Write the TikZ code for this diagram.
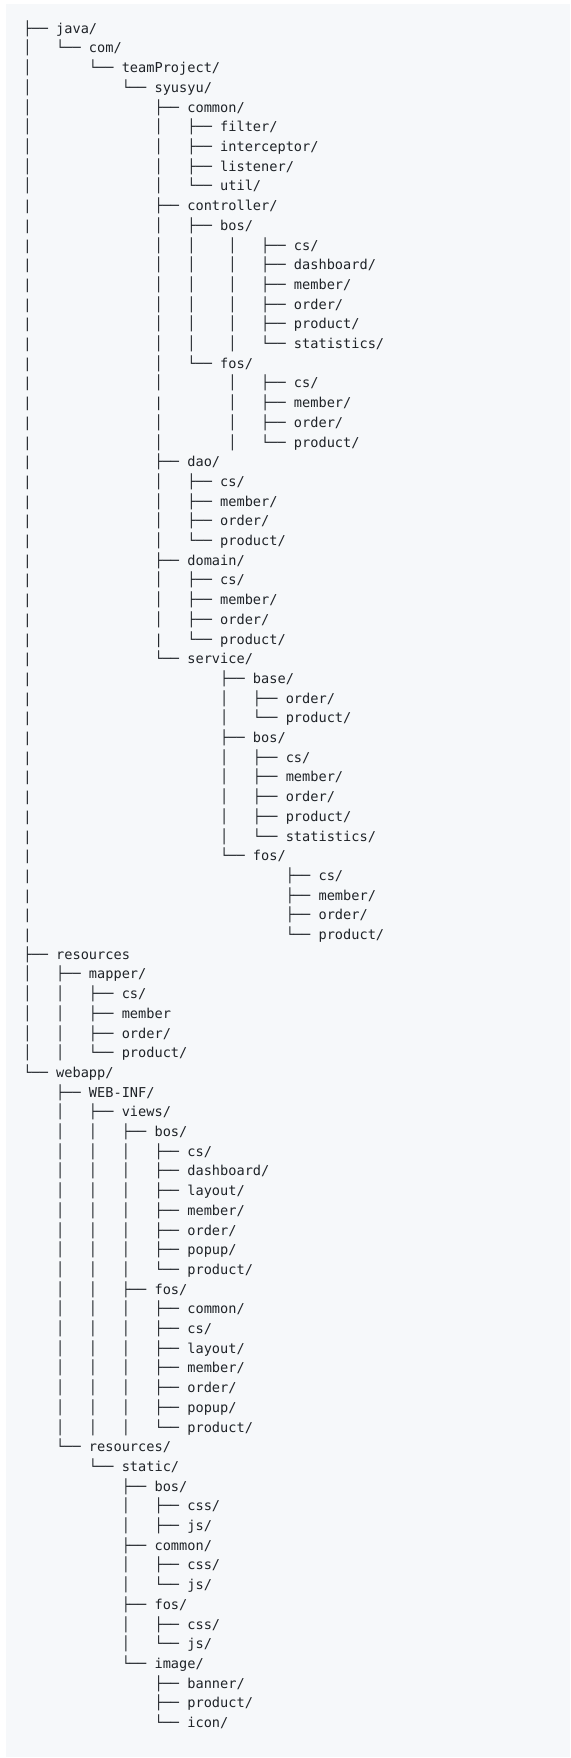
\documentclass[tikz,border=0pt]{standalone}
\usepackage{fontspec}
\setmainfont{DejaVu Sans Mono}
\usepackage{xcolor}
\definecolor{codebg}{HTML}{F6F8FA}
\definecolor{codefg}{HTML}{1F2328}
% tree pieces, 4 columns each
\newcommand{\tbar}{│~~~}
\newcommand{\tasc}{|~~~}
\newcommand{\tgap}{~~~~}
\newcommand{\ttee}{├──~}
\newcommand{\tlast}{└──~}
\newcommand{\tline}[2] % line number, text
{
	\node[treeline] (line#1) at (23.2, {-33.3-(#1-1)*19.7}) {#2};
}

\begin{document}
\begin{tikzpicture}[x=1pt, y=1pt,
	treeline/.style={anchor=base west, inner sep=0pt, text=codefg, font=\fontsize{13.62}{19.7}\selectfont}]
	% page 570 x 1758, code block background
	\useasboundingbox (0, 0) rectangle (570, -1758);
	\fill[codebg] (6.3, -4) rectangle (570, -1757);
	
	% java
	\tline{1}{\ttee java/}
	\tline{2}{\tbar\tlast com/}
	\tline{3}{\tbar\tgap\tlast teamProject/}
	\tline{4}{\tbar\tgap\tgap\tlast syusyu/}
	\tline{5}{\tbar\tgap\tgap\tgap\ttee common/}
	\tline{6}{\tbar\tgap\tgap\tgap\tbar\ttee filter/}
	\tline{7}{\tbar\tgap\tgap\tgap\tbar\ttee interceptor/}
	\tline{8}{\tbar\tgap\tgap\tgap\tbar\ttee listener/}
	\tline{9}{\tbar\tgap\tgap\tgap\tbar\tlast util/}
	\tline{10}{\tasc\tgap\tgap\tgap\ttee controller/}
	\tline{11}{\tasc\tgap\tgap\tgap\tbar\ttee bos/}
	\tline{12}{\tasc\tgap\tgap\tgap\tbar\tbar~\tbar\ttee cs/}
	\tline{13}{\tasc\tgap\tgap\tgap\tbar\tbar~\tbar\ttee dashboard/}
	\tline{14}{\tasc\tgap\tgap\tgap\tbar\tbar~\tbar\ttee member/}
	\tline{15}{\tasc\tgap\tgap\tgap\tbar\tbar~\tbar\ttee order/}
	\tline{16}{\tasc\tgap\tgap\tgap\tbar\tbar~\tbar\ttee product/}
	\tline{17}{\tasc\tgap\tgap\tgap\tbar\tbar~\tbar\tlast statistics/}
	\tline{18}{\tasc\tgap\tgap\tgap\tbar\tlast fos/}
	\tline{19}{\tasc\tgap\tgap\tgap\tbar\tgap~\tbar\ttee cs/}
	\tline{20}{\tasc\tgap\tgap\tgap\tasc\tgap~\tbar\ttee member/}
	\tline{21}{\tasc\tgap\tgap\tgap\tbar\tgap~\tbar\ttee order/}
	\tline{22}{\tasc\tgap\tgap\tgap\tbar\tgap~\tbar\tlast product/}
	\tline{23}{\tasc\tgap\tgap\tgap\ttee dao/}
	\tline{24}{\tasc\tgap\tgap\tgap\tbar\ttee cs/}
	\tline{25}{\tasc\tgap\tgap\tgap\tbar\ttee member/}
	\tline{26}{\tasc\tgap\tgap\tgap\tbar\ttee order/}
	\tline{27}{\tasc\tgap\tgap\tgap\tbar\tlast product/}
	\tline{28}{\tasc\tgap\tgap\tgap\ttee domain/}
	\tline{29}{\tasc\tgap\tgap\tgap\tbar\ttee cs/}
	\tline{30}{\tasc\tgap\tgap\tgap\tbar\ttee member/}
	\tline{31}{\tasc\tgap\tgap\tgap\tbar\ttee order/}
	\tline{32}{\tasc\tgap\tgap\tgap\tasc\tlast product/}
	\tline{33}{\tasc\tgap\tgap\tgap\tlast service/}
	\tline{34}{\tasc\tgap\tgap\tgap\tgap\tgap\ttee base/}
	\tline{35}{\tasc\tgap\tgap\tgap\tgap\tgap\tbar\ttee order/}
	\tline{36}{\tasc\tgap\tgap\tgap\tgap\tgap\tbar\tlast product/}
	\tline{37}{\tasc\tgap\tgap\tgap\tgap\tgap\ttee bos/}
	\tline{38}{\tasc\tgap\tgap\tgap\tgap\tgap\tbar\ttee cs/}
	\tline{39}{\tasc\tgap\tgap\tgap\tgap\tgap\tbar\ttee member/}
	\tline{40}{\tasc\tgap\tgap\tgap\tgap\tgap\tbar\ttee order/}
	\tline{41}{\tasc\tgap\tgap\tgap\tgap\tgap\tbar\ttee product/}
	\tline{42}{\tasc\tgap\tgap\tgap\tgap\tgap\tbar\tlast statistics/}
	\tline{43}{\tasc\tgap\tgap\tgap\tgap\tgap\tlast fos/}
	\tline{44}{\tasc\tgap\tgap\tgap\tgap\tgap\tgap\tgap\ttee cs/}
	\tline{45}{\tasc\tgap\tgap\tgap\tgap\tgap\tgap\tgap\ttee member/}
	\tline{46}{\tasc\tgap\tgap\tgap\tgap\tgap\tgap\tgap\ttee order/}
	\tline{47}{\tasc\tgap\tgap\tgap\tgap\tgap\tgap\tgap\tlast product/}
	
	% resources
	\tline{48}{\ttee resources}
	\tline{49}{\tbar\ttee mapper/}
	\tline{50}{\tbar\tbar\ttee cs/}
	\tline{51}{\tbar\tbar\ttee member}
	\tline{52}{\tbar\tbar\ttee order/}
	\tline{53}{\tbar\tbar\tlast product/}
	
	% webapp
	\tline{54}{\tlast webapp/}
	\tline{55}{\tgap\ttee WEB-INF/}
	\tline{56}{\tgap\tbar\ttee views/}
	\tline{57}{\tgap\tbar\tbar\ttee bos/}
	\tline{58}{\tgap\tbar\tbar\tbar\ttee cs/}
	\tline{59}{\tgap\tbar\tbar\tbar\ttee dashboard/}
	\tline{60}{\tgap\tbar\tbar\tbar\ttee layout/}
	\tline{61}{\tgap\tbar\tbar\tbar\ttee member/}
	\tline{62}{\tgap\tbar\tbar\tbar\ttee order/}
	\tline{63}{\tgap\tbar\tbar\tbar\ttee popup/}
	\tline{64}{\tgap\tbar\tbar\tbar\tlast product/}
	\tline{65}{\tgap\tbar\tbar\ttee fos/}
	\tline{66}{\tgap\tbar\tbar\tbar\ttee common/}
	\tline{67}{\tgap\tbar\tbar\tbar\ttee cs/}
	\tline{68}{\tgap\tbar\tbar\tbar\ttee layout/}
	\tline{69}{\tgap\tbar\tbar\tbar\ttee member/}
	\tline{70}{\tgap\tbar\tbar\tbar\ttee order/}
	\tline{71}{\tgap\tbar\tbar\tbar\ttee popup/}
	\tline{72}{\tgap\tbar\tbar\tbar\tlast product/}
	\tline{73}{\tgap\tlast resources/}
	\tline{74}{\tgap\tgap\tlast static/}
	\tline{75}{\tgap\tgap\tgap\ttee bos/}
	\tline{76}{\tgap\tgap\tgap\tbar\ttee css/}
	\tline{77}{\tgap\tgap\tgap\tbar\ttee js/}
	\tline{78}{\tgap\tgap\tgap\ttee common/}
	\tline{79}{\tgap\tgap\tgap\tbar\ttee css/}
	\tline{80}{\tgap\tgap\tgap\tbar\tlast js/}
	\tline{81}{\tgap\tgap\tgap\ttee fos/}
	\tline{82}{\tgap\tgap\tgap\tbar\ttee css/}
	\tline{83}{\tgap\tgap\tgap\tbar\tlast js/}
	\tline{84}{\tgap\tgap\tgap\tlast image/}
	\tline{85}{\tgap\tgap\tgap\tgap\ttee banner/}
	\tline{86}{\tgap\tgap\tgap\tgap\ttee product/}
	\tline{87}{\tgap\tgap\tgap\tgap\tlast icon/}
	
\end{tikzpicture}
\end{document}
